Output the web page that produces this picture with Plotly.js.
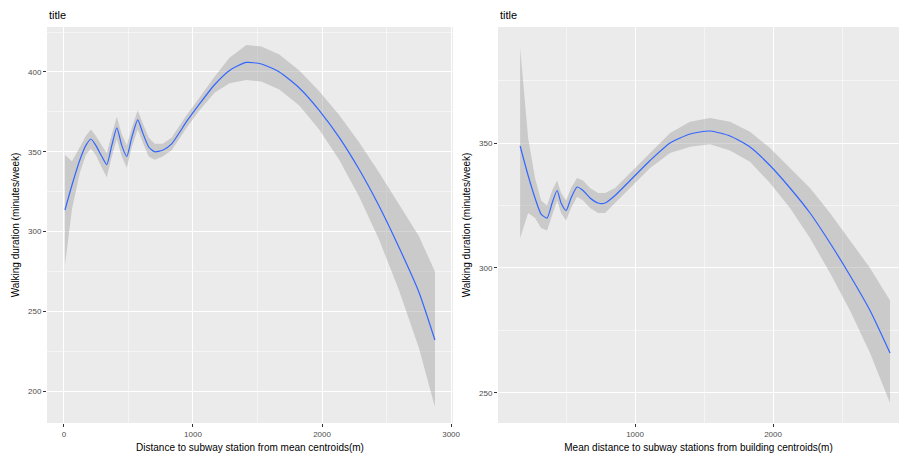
<!DOCTYPE html>
<html>
<head>
<meta charset="utf-8">
<script src="https://cdn.plot.ly/plotly-3.0.1.min.js"></script>
<style>html,body{margin:0;padding:0;background:#fff;}#chart{width:899px;height:457px;}</style>
</head>
<body>
<div id="chart"></div>
<script>
// Left panel: distance to subway station from mean centroids
const leftX = [8,62,124,170,209,247,294,332,371,410,448,487,526,572,610,657,703,765,835,951,1051,1167,1283,1414,1530,1669,1824,1978,2133,2287,2442,2597,2751,2875];
const leftY = [313.5,329,345,354,358,354,347,342,354,365,354,347,359,370,362,353,350,351,355,369,380,392,401,406,405,400,390,376,359,339,316,290,262,232];
const leftUpper = [348,344,353,360,364,360,354,349,361,372,361,354,365,376,368,359,355,355,359,373,384,397,409,417,416,411,401,388,373,356,337,317,297,275];
const leftLower = [279,314,337,348,352,348,340,334,347,358,347,340,353,364,356,347,345,347,351,365,376,387,393,395,394,389,379,364,345,322,295,263,227,190];

// Right panel: mean distance to subway stations from building centroids
const rightX = [167,225,275,319,362,399,435,464,500,536,580,623,674,732,783,855,964,1109,1254,1399,1543,1688,1833,1978,2123,2268,2413,2558,2703,2848];
const rightY = [348.8,337,328,321.6,320,326,331,326,323,328,332.4,331,328,326,326,329,335,343,350,353.6,354.8,352.8,348.4,341,332,322,310,297,283,266];
const rightUpper = [388,352,336,327,325,331,335,330,327,332,336,335,332,330,330,332,338,346,354,358.5,360,358.5,354.5,348,340,332,322,311,300,287];
const rightLower = [312,322,320,316,315,321,327,322,319,324,328.5,327,324,322,322,326,332,340,346,348.5,349.5,347,342.5,334,324,312,298,283,266,246];

const xTicksLeft = [0,1000,2000,3000];
const xTicksRight = [0,1000,2000];
const yTicksLeft = [200,250,300,350,400];
const yTicksRight = [250,300,350];

const titleText = 'title';
const yTitle = 'Walking duration (minutes/week)';
const xTitleLeft = 'Distance to subway station from mean centroids(m)';
const xTitleRight = 'Mean distance to subway stations from building centroids(m)';

const lineColor = '#3366FF';
const bandColor = 'rgba(153,153,153,0.4)';

function band(x, lo, hi, xa, ya) {
  return [
    {x: x, y: lo, xaxis: xa, yaxis: ya, mode: 'lines', line: {width: 0}, hoverinfo: 'skip', showlegend: false},
    {x: x, y: hi, xaxis: xa, yaxis: ya, mode: 'lines', line: {width: 0}, fill: 'tonexty', fillcolor: bandColor, hoverinfo: 'skip', showlegend: false}
  ];
}

const traces = [
  ...band(leftX, leftLower, leftUpper, 'x', 'y'),
  {x: leftX, y: leftY, xaxis: 'x', yaxis: 'y', mode: 'lines', line: {color: lineColor, width: 1.2, shape: 'spline', smoothing: 0.6}, showlegend: false},
  ...band(rightX, rightLower, rightUpper, 'x2', 'y2'),
  {x: rightX, y: rightY, xaxis: 'x2', yaxis: 'y2', mode: 'lines', line: {color: lineColor, width: 1.2, shape: 'spline', smoothing: 0.6}, showlegend: false}
];

const tickFont = {family: 'Liberation Sans, Arial, sans-serif', size: 8, color: '#4D4D4D'};
const titleFont = {family: 'Liberation Sans, Arial, sans-serif', size: 10, color: '#000'};

function axisCommon(extra) {
  return Object.assign({
    showgrid: true, gridcolor: '#FFFFFF', gridwidth: 1,
    zeroline: false, showline: false,
    ticks: 'outside', ticklen: 3, tickcolor: '#333333', tickwidth: 1,
    tickfont: tickFont, automargin: false, fixedrange: true,
    minor: {showgrid: true, gridcolor: '#FFFFFF', gridwidth: 0.5}
  }, extra);
}

const layout = {
  width: 899, height: 457,
  margin: {l: 0, r: 0, t: 0, b: 0},
  paper_bgcolor: '#FFFFFF',
  plot_bgcolor: '#EBEBEB',
  showlegend: false,
  xaxis: axisCommon({domain: [0.0523, 0.5039], range: [-131, 3015], anchor: 'y',
    tickvals: xTicksLeft, ticktext: xTicksLeft.map(String), minor: {showgrid: true, gridcolor: '#FFFFFF', gridwidth: 0.5, dtick: 500, tick0: 0},
    title: {text: xTitleLeft, font: titleFont, standoff: 6}}),
  yaxis: axisCommon({domain: [0.0744, 0.9409], range: [180, 428.2], anchor: 'x',
    tickvals: yTicksLeft, ticktext: yTicksLeft.map(String), minor: {showgrid: true, gridcolor: '#FFFFFF', gridwidth: 0.5, dtick: 25, tick0: 0},
    title: {text: yTitle, font: titleFont, standoff: 6}}),
  xaxis2: axisCommon({domain: [0.554, 1], range: [7, 2913], anchor: 'y2',
    tickvals: xTicksRight, ticktext: xTicksRight.map(String), minor: {showgrid: true, gridcolor: '#FFFFFF', gridwidth: 0.5, dtick: 500, tick0: 0},
    title: {text: xTitleRight, font: titleFont, standoff: 6}}),
  yaxis2: axisCommon({domain: [0.0744, 0.9409], range: [238, 396.4], anchor: 'x2',
    tickvals: yTicksRight, ticktext: yTicksRight.map(String), minor: {showgrid: true, gridcolor: '#FFFFFF', gridwidth: 0.5, dtick: 25, tick0: 0},
    title: {text: yTitle, font: titleFont, standoff: 6}}),
  annotations: [
    {text: titleText, xref: 'paper', yref: 'paper', x: 0.0523, y: 0.985, xanchor: 'left', yanchor: 'top', showarrow: false,
     font: {family: 'Liberation Sans, Arial, sans-serif', size: 11, color: '#000'}},
    {text: titleText, xref: 'paper', yref: 'paper', x: 0.554, y: 0.985, xanchor: 'left', yanchor: 'top', showarrow: false,
     font: {family: 'Liberation Sans, Arial, sans-serif', size: 11, color: '#000'}}
  ]
};

Plotly.newPlot('chart', traces, layout, {displayModeBar: false, staticPlot: true});
</script>
</body>
</html>
